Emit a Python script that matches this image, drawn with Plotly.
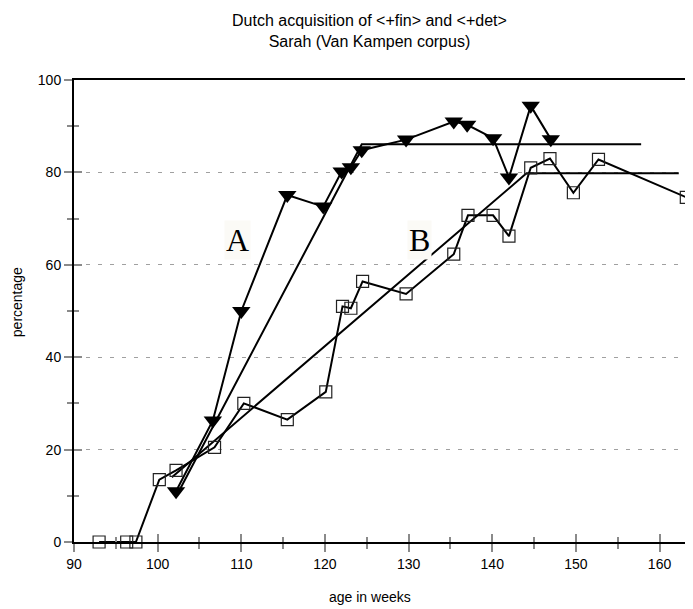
import plotly.graph_objects as go

# ---- data ----
weeks_B = [93.0, 96.3, 97.4, 100.2, 102.2, 106.8, 110.3, 115.5, 120.1, 122.1, 123.1,
           124.5, 129.7, 135.4, 137.1, 140.1, 142.0, 144.6, 146.9, 149.7, 152.7, 163.2]
pct_B = [0, 0, 0, 13.5, 15.5, 20.5, 30.0, 26.5, 32.5, 51.0, 50.6,
         56.4, 53.7, 62.3, 70.7, 70.7, 66.2, 81.0, 83.0, 75.6, 82.8, 74.6]

weeks_A = [102.2, 106.6, 110.0, 115.5, 119.8, 122.0, 123.1, 124.4, 129.7, 135.4,
           137.0, 140.1, 142.0, 144.6, 147.0]
pct_A = [11.0, 26.3, 50.0, 75.1, 72.6, 80.2, 81.1, 84.8, 87.1, 91.0,
         90.3, 87.4, 78.9, 94.4, 87.2]

fitA_x = [102.4, 124.4, 157.8]
fitA_y = [10.5, 86.1, 86.1]
fitB_x = [101.7, 144.1, 162.3]
fitB_y = [14.0, 79.8, 79.8]

x_ticks = [90, 100, 110, 120, 130, 140, 150, 160]
y_ticks = [0, 20, 40, 60, 80, 100]

FONT = "Liberation Sans, Arial, sans-serif"
SERIF = "Liberation Serif, Times New Roman, serif"
TICKC = "#8a8a8a"

fig = go.Figure()

fig.add_trace(go.Scatter(x=fitA_x, y=fitA_y, mode="lines",
                         line=dict(color="black", width=2), hoverinfo="skip"))
fig.add_trace(go.Scatter(x=fitB_x, y=fitB_y, mode="lines",
                         line=dict(color="black", width=2), hoverinfo="skip"))
fig.add_trace(go.Scatter(x=weeks_B, y=pct_B, mode="lines+markers",
                         line=dict(color="black", width=2),
                         marker=dict(symbol="square-open", size=12,
                                     color="#222", line=dict(width=1.2, color="#222")),
                         cliponaxis=False))
fig.add_trace(go.Scatter(x=weeks_A, y=pct_A, mode="lines+markers",
                         line=dict(color="black", width=2),
                         marker=dict(symbol="triangle-down", size=16, color="black"),
                         cliponaxis=False))
# dummy trace to realise the overlay axes (inside tick halves)
fig.add_trace(go.Scatter(x=[None], y=[None], xaxis="x2", yaxis="y2",
                         showlegend=False, hoverinfo="skip"))

MAJ, MIN = 8, 5

fig.update_layout(
    width=685, height=601,
    margin=dict(l=66, r=0, t=72, b=67),
    paper_bgcolor="white", plot_bgcolor="white",
    showlegend=False,
    font=dict(family=FONT, size=14, color="black"),
    xaxis=dict(range=[90, 164], tickvals=x_ticks, ticks="outside", ticklen=MAJ,
               tickcolor=TICKC, tickwidth=1.5,
               minor=dict(dtick=5, tick0=90, ticks="outside", ticklen=MIN,
                          tickcolor=TICKC, tickwidth=1.5),
               showline=True, linecolor="black", linewidth=2, mirror=True,
               showgrid=False, zeroline=False,
               tickfont=dict(family=FONT, size=14)),
    yaxis=dict(range=[0, 100], tickvals=y_ticks, ticks="outside", ticklen=MAJ,
               tickcolor=TICKC, tickwidth=1.5,
               minor=dict(dtick=10, tick0=0, ticks="outside", ticklen=MIN,
                          tickcolor=TICKC, tickwidth=1.5, showgrid=False),
               showline=True, linecolor="black", linewidth=2,
               showgrid=True, gridcolor="#a0a0a0", gridwidth=1,
               griddash="4px,8px", zeroline=False,
               tickfont=dict(family=FONT, size=14)),
    xaxis2=dict(overlaying="x", matches="x", anchor="y", side="bottom",
                tickvals=x_ticks, ticks="inside", ticklen=MAJ, tickcolor=TICKC,
                tickwidth=1.5, showticklabels=False, showline=False,
                showgrid=False, zeroline=False,
                minor=dict(dtick=5, tick0=90, ticks="inside", ticklen=MIN,
                           tickcolor=TICKC, tickwidth=1.5)),
    yaxis2=dict(overlaying="y", matches="y", anchor="x", side="left",
                tickvals=y_ticks, ticks="inside", ticklen=MAJ, tickcolor=TICKC,
                tickwidth=1.5, showticklabels=False, showline=False,
                showgrid=False, zeroline=False,
                minor=dict(dtick=10, tick0=0, ticks="inside", ticklen=MIN,
                           tickcolor=TICKC, tickwidth=1.5)),
)

fig.add_annotation(x=0.478, y=1.106, xref="paper", yref="paper",
                   text="Dutch acquisition of &lt;+fin&gt; and &lt;+det&gt;<br>Sarah (Van Kampen corpus)",
                   showarrow=False, font=dict(family=FONT, size=16),
                   xanchor="center", yanchor="middle", align="center")
fig.add_annotation(x=0.478, y=-0.119, xref="paper", yref="paper",
                   text="age in weeks", showarrow=False,
                   font=dict(family=FONT, size=14), xanchor="center", yanchor="middle")
fig.add_annotation(x=-0.093, y=0.52, xref="paper", yref="paper",
                   text="percentage", textangle=-90, showarrow=False,
                   font=dict(family=FONT, size=14), xanchor="center", yanchor="middle")

fig.add_annotation(x=109.6, y=65.3, text="A", showarrow=False,
                   font=dict(family=SERIF, size=32), bgcolor="#fbfaf6")
fig.add_annotation(x=131.3, y=65.3, text="B", showarrow=False,
                   font=dict(family=SERIF, size=32), bgcolor="#fbfaf6")

fig.write_html("out.html")
